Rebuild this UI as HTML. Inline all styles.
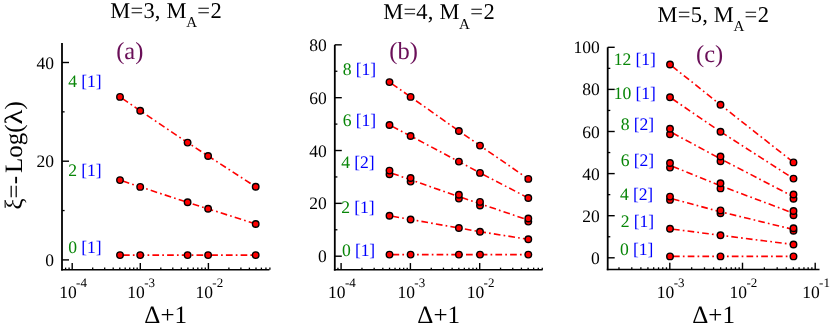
<!DOCTYPE html>
<html><head><meta charset="utf-8"><title>chart</title>
<style>
html,body{margin:0;padding:0;background:#fff;}
svg{display:block;font-family:"Liberation Serif", serif;will-change:transform;text-rendering:geometricPrecision;}
</style></head><body>
<svg width="830" height="326" viewBox="0 0 830 326">
<rect width="830" height="326" fill="#fff"/>
<g>
<path d="M62,43 V270.55" fill="none" stroke="#000" stroke-width="1.8"/>
<path d="M61.10,269.8 H269.4" fill="none" stroke="#000" stroke-width="1.5"/>
<line x1="62" x2="69.0" y1="259.90" y2="259.90" stroke="#000" stroke-width="1.4"/>
<text x="54.0" y="265.90" text-anchor="end" font-size="17.5" fill="#000">0</text>
<line x1="62" x2="69.0" y1="161.20" y2="161.20" stroke="#000" stroke-width="1.4"/>
<text x="54.0" y="167.20" text-anchor="end" font-size="17.5" fill="#000">20</text>
<line x1="62" x2="69.0" y1="62.50" y2="62.50" stroke="#000" stroke-width="1.4"/>
<text x="54.0" y="68.50" text-anchor="end" font-size="17.5" fill="#000">40</text>
<line x1="62" x2="64.6" y1="210.55" y2="210.55" stroke="#000" stroke-width="1.3"/>
<line x1="62" x2="64.6" y1="111.85" y2="111.85" stroke="#000" stroke-width="1.3"/>
<line x1="65.60" x2="65.60" y1="269.8" y2="267.6" stroke="#000" stroke-width="1.3"/>
<line x1="69.08" x2="69.08" y1="269.8" y2="267.6" stroke="#000" stroke-width="1.3"/>
<line x1="72.20" x2="72.20" y1="269.8" y2="263.0" stroke="#000" stroke-width="1.4"/>
<line x1="92.70" x2="92.70" y1="269.8" y2="267.6" stroke="#000" stroke-width="1.3"/>
<line x1="104.69" x2="104.69" y1="269.8" y2="267.6" stroke="#000" stroke-width="1.3"/>
<line x1="113.20" x2="113.20" y1="269.8" y2="267.6" stroke="#000" stroke-width="1.3"/>
<line x1="119.80" x2="119.80" y1="269.8" y2="267.6" stroke="#000" stroke-width="1.3"/>
<line x1="125.19" x2="125.19" y1="269.8" y2="267.6" stroke="#000" stroke-width="1.3"/>
<line x1="129.75" x2="129.75" y1="269.8" y2="267.6" stroke="#000" stroke-width="1.3"/>
<line x1="133.70" x2="133.70" y1="269.8" y2="267.6" stroke="#000" stroke-width="1.3"/>
<line x1="137.18" x2="137.18" y1="269.8" y2="267.6" stroke="#000" stroke-width="1.3"/>
<line x1="140.30" x2="140.30" y1="269.8" y2="263.0" stroke="#000" stroke-width="1.4"/>
<line x1="160.80" x2="160.80" y1="269.8" y2="267.6" stroke="#000" stroke-width="1.3"/>
<line x1="172.79" x2="172.79" y1="269.8" y2="267.6" stroke="#000" stroke-width="1.3"/>
<line x1="181.30" x2="181.30" y1="269.8" y2="267.6" stroke="#000" stroke-width="1.3"/>
<line x1="187.90" x2="187.90" y1="269.8" y2="267.6" stroke="#000" stroke-width="1.3"/>
<line x1="193.29" x2="193.29" y1="269.8" y2="267.6" stroke="#000" stroke-width="1.3"/>
<line x1="197.85" x2="197.85" y1="269.8" y2="267.6" stroke="#000" stroke-width="1.3"/>
<line x1="201.80" x2="201.80" y1="269.8" y2="267.6" stroke="#000" stroke-width="1.3"/>
<line x1="205.28" x2="205.28" y1="269.8" y2="267.6" stroke="#000" stroke-width="1.3"/>
<line x1="208.40" x2="208.40" y1="269.8" y2="263.0" stroke="#000" stroke-width="1.4"/>
<line x1="228.90" x2="228.90" y1="269.8" y2="267.6" stroke="#000" stroke-width="1.3"/>
<line x1="240.89" x2="240.89" y1="269.8" y2="267.6" stroke="#000" stroke-width="1.3"/>
<line x1="249.40" x2="249.40" y1="269.8" y2="267.6" stroke="#000" stroke-width="1.3"/>
<line x1="256.00" x2="256.00" y1="269.8" y2="267.6" stroke="#000" stroke-width="1.3"/>
<line x1="261.39" x2="261.39" y1="269.8" y2="267.6" stroke="#000" stroke-width="1.3"/>
<line x1="265.95" x2="265.95" y1="269.8" y2="267.6" stroke="#000" stroke-width="1.3"/>
<line x1="269.90" x2="269.90" y1="269.8" y2="267.6" stroke="#000" stroke-width="1.3"/>
<text x="59.20" y="297.6" font-size="17.5" fill="#000">10<tspan font-size="13" dy="-10.2" dx="-0.6">-4</tspan></text>
<text x="127.30" y="297.6" font-size="17.5" fill="#000">10<tspan font-size="13" dy="-10.2" dx="-0.6">-3</tspan></text>
<text x="195.40" y="297.6" font-size="17.5" fill="#000">10<tspan font-size="13" dy="-10.2" dx="-0.6">-2</tspan></text>
<text x="165.7" y="323.3" text-anchor="middle" font-size="25" fill="#000">Δ+1</text>
<text x="110.3" y="17.7" font-size="22.5" letter-spacing="0.2" fill="#000">M=3, M</text>
<text x="186.2" y="26.9" font-size="15" fill="#000">A</text>
<text x="197.3" y="17.7" font-size="22.5" letter-spacing="0.5" fill="#000">=2</text>
<text x="116.2" y="58.8" font-size="24.5" fill="#6a0f58">(a)</text>
<text x="68.3" y="86.8" font-size="17.6" letter-spacing="-0.1"><tspan fill="#088608">4</tspan><tspan fill="#0000ff"> [1]</tspan></text>
<text x="68.3" y="175.9" font-size="17.6" letter-spacing="-0.1"><tspan fill="#088608">2</tspan><tspan fill="#0000ff"> [1]</tspan></text>
<text x="68.3" y="252.6" font-size="17.6" letter-spacing="-0.1"><tspan fill="#088608">0</tspan><tspan fill="#0000ff"> [1]</tspan></text>
<path d="M120.0,96.9 L140.2,110.8 L187.6,142.6 L208.1,156.0 L255.7,186.8" fill="none" stroke="#ff0000" stroke-width="1.6" stroke-dasharray="6.7 3.15 1.7 3.15" stroke-dashoffset="11.7"/>
<path d="M120.0,180.1 L140.2,186.9 L187.6,202.3 L208.1,208.8 L255.7,224.0" fill="none" stroke="#ff0000" stroke-width="1.6" stroke-dasharray="6.7 3.15 1.7 3.15" stroke-dashoffset="11.7"/>
<path d="M120.0,255.1 L140.2,255.1 L187.6,255.1 L208.1,255.1 L255.7,255.1" fill="none" stroke="#ff0000" stroke-width="1.6" stroke-dasharray="6.7 3.15 1.7 3.15" stroke-dashoffset="11.7"/>
<circle cx="120.0" cy="255.1" r="3.25" fill="#ff0000" stroke="#000" stroke-width="1.4"/>
<circle cx="140.2" cy="255.1" r="3.25" fill="#ff0000" stroke="#000" stroke-width="1.4"/>
<circle cx="187.6" cy="255.1" r="3.25" fill="#ff0000" stroke="#000" stroke-width="1.4"/>
<circle cx="208.1" cy="255.1" r="3.25" fill="#ff0000" stroke="#000" stroke-width="1.4"/>
<circle cx="255.7" cy="255.1" r="3.25" fill="#ff0000" stroke="#000" stroke-width="1.4"/>
<circle cx="120.0" cy="180.1" r="3.25" fill="#ff0000" stroke="#000" stroke-width="1.4"/>
<circle cx="140.2" cy="186.9" r="3.25" fill="#ff0000" stroke="#000" stroke-width="1.4"/>
<circle cx="187.6" cy="202.3" r="3.25" fill="#ff0000" stroke="#000" stroke-width="1.4"/>
<circle cx="208.1" cy="208.8" r="3.25" fill="#ff0000" stroke="#000" stroke-width="1.4"/>
<circle cx="255.7" cy="224.0" r="3.25" fill="#ff0000" stroke="#000" stroke-width="1.4"/>
<circle cx="120.0" cy="96.9" r="3.25" fill="#ff0000" stroke="#000" stroke-width="1.4"/>
<circle cx="140.2" cy="110.8" r="3.25" fill="#ff0000" stroke="#000" stroke-width="1.4"/>
<circle cx="187.6" cy="142.6" r="3.25" fill="#ff0000" stroke="#000" stroke-width="1.4"/>
<circle cx="208.1" cy="156.0" r="3.25" fill="#ff0000" stroke="#000" stroke-width="1.4"/>
<circle cx="255.7" cy="186.8" r="3.25" fill="#ff0000" stroke="#000" stroke-width="1.4"/>
<path d="M334.8,44.8 V270.60" fill="none" stroke="#000" stroke-width="1.8"/>
<path d="M333.90,269.85 H542.6" fill="none" stroke="#000" stroke-width="1.5"/>
<line x1="334.8" x2="341.8" y1="256.20" y2="256.20" stroke="#000" stroke-width="1.4"/>
<text x="326.8" y="262.20" text-anchor="end" font-size="17.5" fill="#000">0</text>
<line x1="334.8" x2="341.8" y1="203.36" y2="203.36" stroke="#000" stroke-width="1.4"/>
<text x="326.8" y="209.36" text-anchor="end" font-size="17.5" fill="#000">20</text>
<line x1="334.8" x2="341.8" y1="150.52" y2="150.52" stroke="#000" stroke-width="1.4"/>
<text x="326.8" y="156.52" text-anchor="end" font-size="17.5" fill="#000">40</text>
<line x1="334.8" x2="341.8" y1="97.68" y2="97.68" stroke="#000" stroke-width="1.4"/>
<text x="326.8" y="103.68" text-anchor="end" font-size="17.5" fill="#000">60</text>
<line x1="334.8" x2="341.8" y1="44.84" y2="44.84" stroke="#000" stroke-width="1.4"/>
<text x="326.8" y="50.84" text-anchor="end" font-size="17.5" fill="#000">80</text>
<line x1="334.8" x2="337.4" y1="229.78" y2="229.78" stroke="#000" stroke-width="1.3"/>
<line x1="334.8" x2="337.4" y1="176.94" y2="176.94" stroke="#000" stroke-width="1.3"/>
<line x1="334.8" x2="337.4" y1="124.10" y2="124.10" stroke="#000" stroke-width="1.3"/>
<line x1="334.8" x2="337.4" y1="71.26" y2="71.26" stroke="#000" stroke-width="1.3"/>
<line x1="337.93" x2="337.93" y1="269.85" y2="267.65000000000003" stroke="#000" stroke-width="1.3"/>
<line x1="341.10" x2="341.10" y1="269.85" y2="263.05" stroke="#000" stroke-width="1.4"/>
<line x1="361.96" x2="361.96" y1="269.85" y2="267.65000000000003" stroke="#000" stroke-width="1.3"/>
<line x1="374.16" x2="374.16" y1="269.85" y2="267.65000000000003" stroke="#000" stroke-width="1.3"/>
<line x1="382.82" x2="382.82" y1="269.85" y2="267.65000000000003" stroke="#000" stroke-width="1.3"/>
<line x1="389.54" x2="389.54" y1="269.85" y2="267.65000000000003" stroke="#000" stroke-width="1.3"/>
<line x1="395.03" x2="395.03" y1="269.85" y2="267.65000000000003" stroke="#000" stroke-width="1.3"/>
<line x1="399.67" x2="399.67" y1="269.85" y2="267.65000000000003" stroke="#000" stroke-width="1.3"/>
<line x1="403.68" x2="403.68" y1="269.85" y2="267.65000000000003" stroke="#000" stroke-width="1.3"/>
<line x1="407.23" x2="407.23" y1="269.85" y2="267.65000000000003" stroke="#000" stroke-width="1.3"/>
<line x1="410.40" x2="410.40" y1="269.85" y2="263.05" stroke="#000" stroke-width="1.4"/>
<line x1="431.26" x2="431.26" y1="269.85" y2="267.65000000000003" stroke="#000" stroke-width="1.3"/>
<line x1="443.46" x2="443.46" y1="269.85" y2="267.65000000000003" stroke="#000" stroke-width="1.3"/>
<line x1="452.12" x2="452.12" y1="269.85" y2="267.65000000000003" stroke="#000" stroke-width="1.3"/>
<line x1="458.84" x2="458.84" y1="269.85" y2="267.65000000000003" stroke="#000" stroke-width="1.3"/>
<line x1="464.33" x2="464.33" y1="269.85" y2="267.65000000000003" stroke="#000" stroke-width="1.3"/>
<line x1="468.97" x2="468.97" y1="269.85" y2="267.65000000000003" stroke="#000" stroke-width="1.3"/>
<line x1="472.98" x2="472.98" y1="269.85" y2="267.65000000000003" stroke="#000" stroke-width="1.3"/>
<line x1="476.53" x2="476.53" y1="269.85" y2="267.65000000000003" stroke="#000" stroke-width="1.3"/>
<line x1="479.70" x2="479.70" y1="269.85" y2="263.05" stroke="#000" stroke-width="1.4"/>
<line x1="500.56" x2="500.56" y1="269.85" y2="267.65000000000003" stroke="#000" stroke-width="1.3"/>
<line x1="512.76" x2="512.76" y1="269.85" y2="267.65000000000003" stroke="#000" stroke-width="1.3"/>
<line x1="521.42" x2="521.42" y1="269.85" y2="267.65000000000003" stroke="#000" stroke-width="1.3"/>
<line x1="528.14" x2="528.14" y1="269.85" y2="267.65000000000003" stroke="#000" stroke-width="1.3"/>
<line x1="533.63" x2="533.63" y1="269.85" y2="267.65000000000003" stroke="#000" stroke-width="1.3"/>
<line x1="538.27" x2="538.27" y1="269.85" y2="267.65000000000003" stroke="#000" stroke-width="1.3"/>
<line x1="542.28" x2="542.28" y1="269.85" y2="267.65000000000003" stroke="#000" stroke-width="1.3"/>
<text x="328.10" y="297.6" font-size="17.5" fill="#000">10<tspan font-size="13" dy="-10.2" dx="-0.6">-4</tspan></text>
<text x="397.40" y="297.6" font-size="17.5" fill="#000">10<tspan font-size="13" dy="-10.2" dx="-0.6">-3</tspan></text>
<text x="466.70" y="297.6" font-size="17.5" fill="#000">10<tspan font-size="13" dy="-10.2" dx="-0.6">-2</tspan></text>
<text x="438.7" y="323.3" text-anchor="middle" font-size="25" fill="#000">Δ+1</text>
<text x="383.2" y="19.4" font-size="22.5" letter-spacing="0.2" fill="#000">M=4, M</text>
<text x="459.1" y="28.6" font-size="15" fill="#000">A</text>
<text x="470.2" y="19.4" font-size="22.5" letter-spacing="0.5" fill="#000">=2</text>
<text x="389.3" y="59.3" font-size="24.5" fill="#6a0f58">(b)</text>
<text x="342.8" y="74.5" font-size="17.6" letter-spacing="-0.1"><tspan fill="#088608">8</tspan><tspan fill="#0000ff"> [1]</tspan></text>
<text x="342.8" y="125.7" font-size="17.6" letter-spacing="-0.1"><tspan fill="#088608">6</tspan><tspan fill="#0000ff"> [1]</tspan></text>
<text x="341.3" y="168.2" font-size="17.6" letter-spacing="-0.1"><tspan fill="#088608">4</tspan><tspan fill="#0000ff"> [2]</tspan></text>
<text x="341.3" y="213.3" font-size="17.6" letter-spacing="-0.1"><tspan fill="#088608">2</tspan><tspan fill="#0000ff"> [1]</tspan></text>
<text x="341.9" y="255.6" font-size="17.6" letter-spacing="-0.1"><tspan fill="#088608">0</tspan><tspan fill="#0000ff"> [1]</tspan></text>
<path d="M389.5,82.1 L410.6,96.9 L458.9,131.0 L480.0,145.6 L528.3,178.9" fill="none" stroke="#ff0000" stroke-width="1.6" stroke-dasharray="6.7 3.15 1.7 3.15" stroke-dashoffset="11.7"/>
<path d="M389.5,125.0 L410.6,136.0 L458.9,161.6 L480.0,172.9 L528.3,198.0" fill="none" stroke="#ff0000" stroke-width="1.6" stroke-dasharray="6.7 3.15 1.7 3.15" stroke-dashoffset="11.7"/>
<path d="M389.5,172.4 L410.6,179.8 L458.9,196.6 L480.0,203.7 L528.3,220.1" fill="none" stroke="#ff0000" stroke-width="1.6" stroke-dasharray="6.7 3.15 1.7 3.15" stroke-dashoffset="11.7"/>
<path d="M389.5,215.8 L410.6,219.5 L458.9,228.0 L480.0,231.7 L528.3,239.3" fill="none" stroke="#ff0000" stroke-width="1.6" stroke-dasharray="6.7 3.15 1.7 3.15" stroke-dashoffset="11.7"/>
<path d="M389.5,254.6 L410.6,254.6 L458.9,254.6 L480.0,254.6 L528.3,254.6" fill="none" stroke="#ff0000" stroke-width="1.6" stroke-dasharray="6.7 3.15 1.7 3.15" stroke-dashoffset="11.7"/>
<circle cx="389.5" cy="254.6" r="3.25" fill="#ff0000" stroke="#000" stroke-width="1.4"/>
<circle cx="410.6" cy="254.6" r="3.25" fill="#ff0000" stroke="#000" stroke-width="1.4"/>
<circle cx="458.9" cy="254.6" r="3.25" fill="#ff0000" stroke="#000" stroke-width="1.4"/>
<circle cx="480.0" cy="254.6" r="3.25" fill="#ff0000" stroke="#000" stroke-width="1.4"/>
<circle cx="528.3" cy="254.6" r="3.25" fill="#ff0000" stroke="#000" stroke-width="1.4"/>
<circle cx="389.5" cy="215.8" r="3.25" fill="#ff0000" stroke="#000" stroke-width="1.4"/>
<circle cx="410.6" cy="219.5" r="3.25" fill="#ff0000" stroke="#000" stroke-width="1.4"/>
<circle cx="458.9" cy="228.0" r="3.25" fill="#ff0000" stroke="#000" stroke-width="1.4"/>
<circle cx="480.0" cy="231.7" r="3.25" fill="#ff0000" stroke="#000" stroke-width="1.4"/>
<circle cx="528.3" cy="239.3" r="3.25" fill="#ff0000" stroke="#000" stroke-width="1.4"/>
<circle cx="389.5" cy="174.3" r="3.25" fill="#ff0000" stroke="#000" stroke-width="1.4"/>
<circle cx="410.6" cy="181.6" r="3.25" fill="#ff0000" stroke="#000" stroke-width="1.4"/>
<circle cx="458.9" cy="198.6" r="3.25" fill="#ff0000" stroke="#000" stroke-width="1.4"/>
<circle cx="480.0" cy="205.5" r="3.25" fill="#ff0000" stroke="#000" stroke-width="1.4"/>
<circle cx="528.3" cy="221.6" r="3.25" fill="#ff0000" stroke="#000" stroke-width="1.4"/>
<circle cx="389.5" cy="170.6" r="3.25" fill="#ff0000" stroke="#000" stroke-width="1.4"/>
<circle cx="410.6" cy="178.0" r="3.25" fill="#ff0000" stroke="#000" stroke-width="1.4"/>
<circle cx="458.9" cy="194.7" r="3.25" fill="#ff0000" stroke="#000" stroke-width="1.4"/>
<circle cx="480.0" cy="201.9" r="3.25" fill="#ff0000" stroke="#000" stroke-width="1.4"/>
<circle cx="528.3" cy="218.5" r="3.25" fill="#ff0000" stroke="#000" stroke-width="1.4"/>
<circle cx="389.5" cy="125.0" r="3.25" fill="#ff0000" stroke="#000" stroke-width="1.4"/>
<circle cx="410.6" cy="136.0" r="3.25" fill="#ff0000" stroke="#000" stroke-width="1.4"/>
<circle cx="458.9" cy="161.6" r="3.25" fill="#ff0000" stroke="#000" stroke-width="1.4"/>
<circle cx="480.0" cy="172.9" r="3.25" fill="#ff0000" stroke="#000" stroke-width="1.4"/>
<circle cx="528.3" cy="198.0" r="3.25" fill="#ff0000" stroke="#000" stroke-width="1.4"/>
<circle cx="389.5" cy="82.1" r="3.25" fill="#ff0000" stroke="#000" stroke-width="1.4"/>
<circle cx="410.6" cy="96.9" r="3.25" fill="#ff0000" stroke="#000" stroke-width="1.4"/>
<circle cx="458.9" cy="131.0" r="3.25" fill="#ff0000" stroke="#000" stroke-width="1.4"/>
<circle cx="480.0" cy="145.6" r="3.25" fill="#ff0000" stroke="#000" stroke-width="1.4"/>
<circle cx="528.3" cy="178.9" r="3.25" fill="#ff0000" stroke="#000" stroke-width="1.4"/>
<path d="M607.7,47.3 V270.25" fill="none" stroke="#000" stroke-width="1.8"/>
<path d="M606.80,269.5 H819.5" fill="none" stroke="#000" stroke-width="1.5"/>
<line x1="607.7" x2="614.7" y1="257.80" y2="257.80" stroke="#000" stroke-width="1.4"/>
<text x="599.7" y="263.80" text-anchor="end" font-size="17.5" fill="#000">0</text>
<line x1="607.7" x2="614.7" y1="215.70" y2="215.70" stroke="#000" stroke-width="1.4"/>
<text x="599.7" y="221.70" text-anchor="end" font-size="17.5" fill="#000">20</text>
<line x1="607.7" x2="614.7" y1="173.60" y2="173.60" stroke="#000" stroke-width="1.4"/>
<text x="599.7" y="179.60" text-anchor="end" font-size="17.5" fill="#000">40</text>
<line x1="607.7" x2="614.7" y1="131.50" y2="131.50" stroke="#000" stroke-width="1.4"/>
<text x="599.7" y="137.50" text-anchor="end" font-size="17.5" fill="#000">60</text>
<line x1="607.7" x2="614.7" y1="89.40" y2="89.40" stroke="#000" stroke-width="1.4"/>
<text x="599.7" y="95.40" text-anchor="end" font-size="17.5" fill="#000">80</text>
<line x1="607.7" x2="614.7" y1="47.30" y2="47.30" stroke="#000" stroke-width="1.4"/>
<text x="599.7" y="53.30" text-anchor="end" font-size="17.5" fill="#000">100</text>
<line x1="607.7" x2="610.3" y1="236.75" y2="236.75" stroke="#000" stroke-width="1.3"/>
<line x1="607.7" x2="610.3" y1="194.65" y2="194.65" stroke="#000" stroke-width="1.3"/>
<line x1="607.7" x2="610.3" y1="152.55" y2="152.55" stroke="#000" stroke-width="1.3"/>
<line x1="607.7" x2="610.3" y1="110.45" y2="110.45" stroke="#000" stroke-width="1.3"/>
<line x1="607.7" x2="610.3" y1="68.35" y2="68.35" stroke="#000" stroke-width="1.3"/>
<line x1="618.98" x2="618.98" y1="269.5" y2="267.3" stroke="#000" stroke-width="1.3"/>
<line x1="631.79" x2="631.79" y1="269.5" y2="267.3" stroke="#000" stroke-width="1.3"/>
<line x1="640.87" x2="640.87" y1="269.5" y2="267.3" stroke="#000" stroke-width="1.3"/>
<line x1="647.92" x2="647.92" y1="269.5" y2="267.3" stroke="#000" stroke-width="1.3"/>
<line x1="653.67" x2="653.67" y1="269.5" y2="267.3" stroke="#000" stroke-width="1.3"/>
<line x1="658.54" x2="658.54" y1="269.5" y2="267.3" stroke="#000" stroke-width="1.3"/>
<line x1="662.75" x2="662.75" y1="269.5" y2="267.3" stroke="#000" stroke-width="1.3"/>
<line x1="666.47" x2="666.47" y1="269.5" y2="267.3" stroke="#000" stroke-width="1.3"/>
<line x1="669.80" x2="669.80" y1="269.5" y2="262.7" stroke="#000" stroke-width="1.4"/>
<line x1="691.68" x2="691.68" y1="269.5" y2="267.3" stroke="#000" stroke-width="1.3"/>
<line x1="704.49" x2="704.49" y1="269.5" y2="267.3" stroke="#000" stroke-width="1.3"/>
<line x1="713.57" x2="713.57" y1="269.5" y2="267.3" stroke="#000" stroke-width="1.3"/>
<line x1="720.62" x2="720.62" y1="269.5" y2="267.3" stroke="#000" stroke-width="1.3"/>
<line x1="726.37" x2="726.37" y1="269.5" y2="267.3" stroke="#000" stroke-width="1.3"/>
<line x1="731.24" x2="731.24" y1="269.5" y2="267.3" stroke="#000" stroke-width="1.3"/>
<line x1="735.45" x2="735.45" y1="269.5" y2="267.3" stroke="#000" stroke-width="1.3"/>
<line x1="739.17" x2="739.17" y1="269.5" y2="267.3" stroke="#000" stroke-width="1.3"/>
<line x1="742.50" x2="742.50" y1="269.5" y2="262.7" stroke="#000" stroke-width="1.4"/>
<line x1="764.38" x2="764.38" y1="269.5" y2="267.3" stroke="#000" stroke-width="1.3"/>
<line x1="777.19" x2="777.19" y1="269.5" y2="267.3" stroke="#000" stroke-width="1.3"/>
<line x1="786.27" x2="786.27" y1="269.5" y2="267.3" stroke="#000" stroke-width="1.3"/>
<line x1="793.32" x2="793.32" y1="269.5" y2="267.3" stroke="#000" stroke-width="1.3"/>
<line x1="799.07" x2="799.07" y1="269.5" y2="267.3" stroke="#000" stroke-width="1.3"/>
<line x1="803.94" x2="803.94" y1="269.5" y2="267.3" stroke="#000" stroke-width="1.3"/>
<line x1="808.15" x2="808.15" y1="269.5" y2="267.3" stroke="#000" stroke-width="1.3"/>
<line x1="811.87" x2="811.87" y1="269.5" y2="267.3" stroke="#000" stroke-width="1.3"/>
<line x1="815.20" x2="815.20" y1="269.5" y2="262.7" stroke="#000" stroke-width="1.4"/>
<text x="656.80" y="297.6" font-size="17.5" fill="#000">10<tspan font-size="13" dy="-10.2" dx="-0.6">-3</tspan></text>
<text x="729.50" y="297.6" font-size="17.5" fill="#000">10<tspan font-size="13" dy="-10.2" dx="-0.6">-2</tspan></text>
<text x="802.20" y="297.6" font-size="17.5" fill="#000">10<tspan font-size="13" dy="-10.2" dx="-0.6">-1</tspan></text>
<text x="713.6" y="323.3" text-anchor="middle" font-size="25" fill="#000">Δ+1</text>
<text x="657.6" y="21.9" font-size="22.5" letter-spacing="0.2" fill="#000">M=5, M</text>
<text x="733.5" y="31.1" font-size="15" fill="#000">A</text>
<text x="744.6" y="21.9" font-size="22.5" letter-spacing="0.5" fill="#000">=2</text>
<text x="696" y="62" font-size="24.5" fill="#6a0f58">(c)</text>
<text x="613.8" y="64.7" font-size="17.6" letter-spacing="-0.1"><tspan fill="#088608">12</tspan><tspan fill="#0000ff"> [1]</tspan></text>
<text x="613.8" y="98.6" font-size="17.6" letter-spacing="-0.1"><tspan fill="#088608">10</tspan><tspan fill="#0000ff"> [1]</tspan></text>
<text x="620.8" y="130" font-size="17.6" letter-spacing="-0.1"><tspan fill="#088608">8</tspan><tspan fill="#0000ff"> [2]</tspan></text>
<text x="620.8" y="165.6" font-size="17.6" letter-spacing="-0.1"><tspan fill="#088608">6</tspan><tspan fill="#0000ff"> [2]</tspan></text>
<text x="619.9" y="199.9" font-size="17.6" letter-spacing="-0.1"><tspan fill="#088608">4</tspan><tspan fill="#0000ff"> [2]</tspan></text>
<text x="620.8" y="226.9" font-size="17.6" letter-spacing="-0.1"><tspan fill="#088608">2</tspan><tspan fill="#0000ff"> [1]</tspan></text>
<text x="620.1" y="254.7" font-size="17.6" letter-spacing="-0.1"><tspan fill="#088608">0</tspan><tspan fill="#0000ff"> [1]</tspan></text>
<path d="M670.0,64.5 L720.5,104.8 L793.5,162.4" fill="none" stroke="#ff0000" stroke-width="1.6" stroke-dasharray="6.7 3.15 1.7 3.15" stroke-dashoffset="11.7"/>
<path d="M670.0,97.3 L720.5,131.7 L793.5,178.6" fill="none" stroke="#ff0000" stroke-width="1.6" stroke-dasharray="6.7 3.15 1.7 3.15" stroke-dashoffset="11.7"/>
<path d="M670.0,131.6 L720.5,158.8 L793.5,196.7" fill="none" stroke="#ff0000" stroke-width="1.6" stroke-dasharray="6.7 3.15 1.7 3.15" stroke-dashoffset="11.7"/>
<path d="M670.0,165.3 L720.5,185.8 L793.5,213.2" fill="none" stroke="#ff0000" stroke-width="1.6" stroke-dasharray="6.7 3.15 1.7 3.15" stroke-dashoffset="11.7"/>
<path d="M670.0,198.2 L720.5,211.8 L793.5,229.5" fill="none" stroke="#ff0000" stroke-width="1.6" stroke-dasharray="6.7 3.15 1.7 3.15" stroke-dashoffset="11.7"/>
<path d="M670.0,228.8 L720.5,235.3 L793.5,244.5" fill="none" stroke="#ff0000" stroke-width="1.6" stroke-dasharray="6.7 3.15 1.7 3.15" stroke-dashoffset="11.7"/>
<path d="M670.0,256.4 L720.5,256.4 L793.5,256.4" fill="none" stroke="#ff0000" stroke-width="1.6" stroke-dasharray="6.7 3.15 1.7 3.15" stroke-dashoffset="11.7"/>
<circle cx="670.0" cy="256.4" r="3.25" fill="#ff0000" stroke="#000" stroke-width="1.4"/>
<circle cx="720.5" cy="256.4" r="3.25" fill="#ff0000" stroke="#000" stroke-width="1.4"/>
<circle cx="793.5" cy="256.4" r="3.25" fill="#ff0000" stroke="#000" stroke-width="1.4"/>
<circle cx="670.0" cy="228.8" r="3.25" fill="#ff0000" stroke="#000" stroke-width="1.4"/>
<circle cx="720.5" cy="235.3" r="3.25" fill="#ff0000" stroke="#000" stroke-width="1.4"/>
<circle cx="793.5" cy="244.5" r="3.25" fill="#ff0000" stroke="#000" stroke-width="1.4"/>
<circle cx="670.0" cy="199.9" r="3.25" fill="#ff0000" stroke="#000" stroke-width="1.4"/>
<circle cx="720.5" cy="213.2" r="3.25" fill="#ff0000" stroke="#000" stroke-width="1.4"/>
<circle cx="793.5" cy="230.8" r="3.25" fill="#ff0000" stroke="#000" stroke-width="1.4"/>
<circle cx="670.0" cy="196.6" r="3.25" fill="#ff0000" stroke="#000" stroke-width="1.4"/>
<circle cx="720.5" cy="210.4" r="3.25" fill="#ff0000" stroke="#000" stroke-width="1.4"/>
<circle cx="793.5" cy="228.2" r="3.25" fill="#ff0000" stroke="#000" stroke-width="1.4"/>
<circle cx="670.0" cy="167.6" r="3.25" fill="#ff0000" stroke="#000" stroke-width="1.4"/>
<circle cx="720.5" cy="188.4" r="3.25" fill="#ff0000" stroke="#000" stroke-width="1.4"/>
<circle cx="793.5" cy="215.3" r="3.25" fill="#ff0000" stroke="#000" stroke-width="1.4"/>
<circle cx="670.0" cy="163.0" r="3.25" fill="#ff0000" stroke="#000" stroke-width="1.4"/>
<circle cx="720.5" cy="183.2" r="3.25" fill="#ff0000" stroke="#000" stroke-width="1.4"/>
<circle cx="793.5" cy="211.0" r="3.25" fill="#ff0000" stroke="#000" stroke-width="1.4"/>
<circle cx="670.0" cy="134.3" r="3.25" fill="#ff0000" stroke="#000" stroke-width="1.4"/>
<circle cx="720.5" cy="161.2" r="3.25" fill="#ff0000" stroke="#000" stroke-width="1.4"/>
<circle cx="793.5" cy="198.8" r="3.25" fill="#ff0000" stroke="#000" stroke-width="1.4"/>
<circle cx="670.0" cy="128.8" r="3.25" fill="#ff0000" stroke="#000" stroke-width="1.4"/>
<circle cx="720.5" cy="156.5" r="3.25" fill="#ff0000" stroke="#000" stroke-width="1.4"/>
<circle cx="793.5" cy="194.5" r="3.25" fill="#ff0000" stroke="#000" stroke-width="1.4"/>
<circle cx="670.0" cy="97.3" r="3.25" fill="#ff0000" stroke="#000" stroke-width="1.4"/>
<circle cx="720.5" cy="131.7" r="3.25" fill="#ff0000" stroke="#000" stroke-width="1.4"/>
<circle cx="793.5" cy="178.6" r="3.25" fill="#ff0000" stroke="#000" stroke-width="1.4"/>
<circle cx="670.0" cy="64.5" r="3.25" fill="#ff0000" stroke="#000" stroke-width="1.4"/>
<circle cx="720.5" cy="104.8" r="3.25" fill="#ff0000" stroke="#000" stroke-width="1.4"/>
<circle cx="793.5" cy="162.4" r="3.25" fill="#ff0000" stroke="#000" stroke-width="1.4"/>
<g transform="translate(22.4,0) rotate(-90)" font-size="25" fill="#000"><text x="-209.6" y="0">ξ=-</text><text x="-173.1" y="0">Log(</text><text transform="translate(-124.4,0) scale(1.235,1)" x="0" y="0">λ</text><text x="-109.4" y="0">)</text></g>
</g>
</svg>
</body></html>
